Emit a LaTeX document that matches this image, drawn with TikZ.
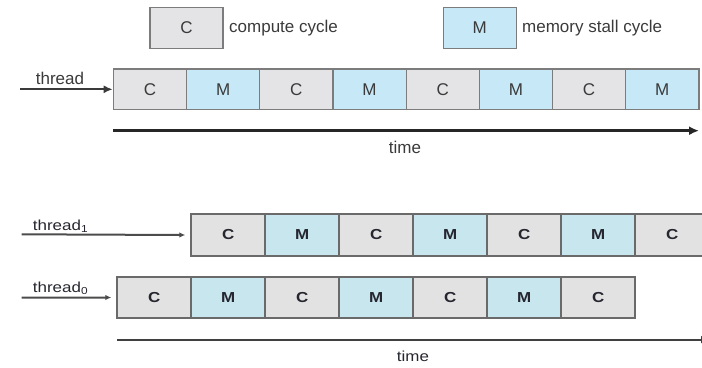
\documentclass[tikz,border=0pt]{standalone}
\usepackage{fontspec}
\setmainfont{Liberation Sans}
\newfontfamily\botfont[FakeStretch=1.17]{Liberation Sans}
\usetikzlibrary{arrows.meta}
\definecolor{cgray}{HTML}{E4E4E6}
\definecolor{mblue}{HTML}{C6E8F7}
\definecolor{cgrayb}{HTML}{E2E2E2}
\definecolor{mblueb}{HTML}{C8E6EE}
\definecolor{edgetop}{HTML}{7C7C7C}
\definecolor{edgebot}{HTML}{6A6A6A}
\definecolor{txttop}{HTML}{3A3A3A}
\definecolor{txtbot}{HTML}{262630}
\newcommand{\topfs}{\fontsize{17bp}{20bp}\selectfont}
\newcommand{\botfs}{\botfont\fontsize{14.5bp}{17bp}\selectfont}
\tikzset{
  topbox/.style={draw=edgetop, line width=1.2bp, minimum width=73.2bp, minimum height=40.5bp, inner sep=0pt, font=\topfs, text=txttop},
  tc/.style={topbox, fill=cgray},
  tm/.style={topbox, fill=mblue},
  legbox/.style={draw=edgetop, line width=1.2bp, minimum width=73bp, minimum height=41bp, inner sep=0pt, font=\topfs, text=txttop},
  botbox/.style={draw=edgebot, line width=2bp, minimum width=74bp, minimum height=41.5bp, inner sep=0pt, font=\botfs\bfseries, text=txtbot},
  bc/.style={botbox, fill=cgrayb},
  bm/.style={botbox, fill=mblueb},
  toplabel/.style={inner sep=0pt, font=\topfs, text=txttop},
  botlabel/.style={inner sep=0pt, font=\botfs, text=txtbot},
  toparrow/.style={draw=txttop, line width=2.2bp, -{Latex[length=9bp,width=8bp]}},
  timearrow/.style={draw=black!85, line width=2.8bp, -{Latex[length=10bp,width=9bp]}},
  botarrow/.style={draw=black!70, line width=2bp, -{Latex[length=6bp,width=5.5bp]}},
  bottime/.style={draw=black!75, line width=2.2bp, -{Latex[length=8bp,width=8bp]}}
}
\begin{document}
\begin{tikzpicture}[x=1bp,y=-1bp]
\useasboundingbox (0,0) rectangle (702,367);
\clip (0,0) rectangle (702,367);
% legend
\node[legbox, fill=cgray] (legC) at (186.5,27.8) {C};
\node[toplabel, anchor=west] (legCt) at (229,28) {compute cycle};
\node[legbox, fill=mblue] (legM) at (479.7,27.8) {M};
\node[toplabel, anchor=west] (legMt) at (522,28) {memory stall cycle};
% single thread row
\node[tc] (t0) at (149.9,89.3) {C};
\node[tm] (t1) at (223.1,89.3) {M};
\node[tc] (t2) at (296.3,89.3) {C};
\node[tm] (t3) at (369.5,89.3) {M};
\node[tc] (t4) at (442.7,89.3) {C};
\node[tm] (t5) at (515.9,89.3) {M};
\node[tc] (t6) at (589.1,89.3) {C};
\node[tm] (t7) at (662.3,89.3) {M};
\node[toplabel, anchor=base] (thr) at (60,84) {thread};
\coordinate (thrS) at (20,89.3);
\draw[toparrow] (thrS) -- (t0.west);
\coordinate (timeS) at (113.3,130.7);
\coordinate (timeE) at (699,130.7);
\draw[timearrow] (timeS) -- (timeE);
\node[toplabel, anchor=base] (timeT) at (405,153) {time};
% thread1 row
\node[bc] (a0) at (228.3,235) {C};
\node[bm] (a1) at (302.3,235) {M};
\node[bc] (a2) at (376.3,235) {C};
\node[bm] (a3) at (450.3,235) {M};
\node[bc] (a4) at (524.3,235) {C};
\node[bm] (a5) at (598.3,235) {M};
\node[bc] (a6) at (672.3,235) {C};
\node[botlabel, anchor=base west] (th1) at (32.7,230) {thread\textsubscript{1}};
\coordinate (th1S) at (21.7,234.3);
\draw[botarrow] (th1S) -- ([xshift=-5bp]a0.west);
% thread0 row
\node[bc] (b0) at (154.3,297.5) {C};
\node[bm] (b1) at (228.3,297.5) {M};
\node[bc] (b2) at (302.3,297.5) {C};
\node[bm] (b3) at (376.3,297.5) {M};
\node[bc] (b4) at (450.3,297.5) {C};
\node[bm] (b5) at (524.3,297.5) {M};
\node[bc] (b6) at (598.3,297.5) {C};
\node[botlabel, anchor=base west] (th0) at (32.7,292.3) {thread\textsubscript{0}};
\coordinate (th0S) at (21.7,297.7);
\draw[botarrow] (th0S) -- ([xshift=-5bp]b0.west);
\coordinate (btS) at (117.3,339.6);
\coordinate (btE) at (709,339.6);
\draw[bottime] (btS) -- (btE);
\node[botlabel, anchor=base] (btT) at (413,361.5) {time};
\end{tikzpicture}
\end{document}
